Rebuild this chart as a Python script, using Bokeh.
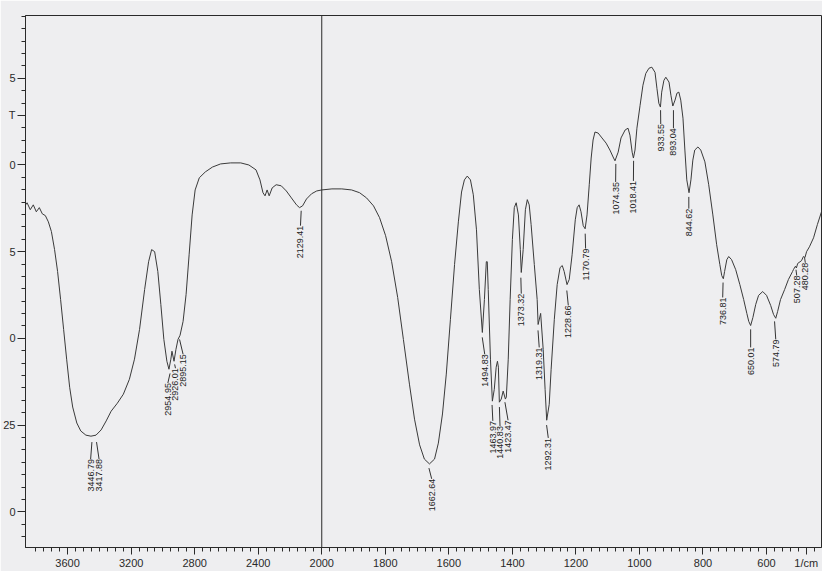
import math
from bokeh.plotting import figure
from bokeh.models import (ColumnDataSource, CustomJSTransform, CustomJSTickFormatter,
                          FixedTicker, Span, Range1d)
from bokeh.transform import transform
from bokeh.core.properties import value
from bokeh.embed import file_html
from bokeh.resources import INLINE

# ---- spectrum (wavenumber 1/cm, transmittance) ----
wavenumber = [3893, 3874, 3855, 3835, 3816, 3797, 3778, 3759, 3740, 3721, 3702, 3682, 3663, 3644,
              3625, 3606, 3587, 3568, 3542, 3517, 3485, 3453, 3421, 3389, 3357, 3326, 3287, 3249,
              3211, 3179, 3147, 3115, 3090, 3071, 3052, 3032, 3013, 2994, 2975, 2962, 2950, 2943,
              2930, 2918, 2905, 2892, 2873, 2854, 2835, 2816, 2797, 2771, 2733, 2688, 2637, 2574,
              2510, 2459, 2414, 2389, 2370, 2357, 2344, 2331, 2312, 2287, 2255, 2223, 2191, 2159,
              2140, 2121, 2096, 2064, 2032, 2000,
              1968, 1937, 1906, 1881, 1859, 1837, 1818, 1799, 1780, 1761, 1743, 1724, 1708, 1692,
              1677, 1661, 1645, 1633, 1620, 1608, 1595, 1582, 1570, 1560, 1551, 1542, 1532, 1523,
              1513, 1504, 1494.5, 1488, 1482, 1479, 1476, 1469, 1463, 1457, 1451, 1447, 1444, 1441,
              1435, 1429, 1422, 1419, 1413, 1407, 1400, 1394, 1388, 1381, 1375, 1372, 1366, 1359,
              1353, 1347, 1341, 1331, 1322, 1319, 1311, 1303, 1297, 1292, 1284, 1278, 1268, 1259,
              1250, 1243, 1237, 1228, 1221, 1212, 1202, 1196, 1190, 1184, 1177, 1171, 1165, 1158,
              1152, 1146, 1140, 1130, 1118, 1105, 1093, 1083, 1077, 1067, 1058, 1045, 1036, 1030,
              1023, 1019, 1014, 1008, 998, 989, 980, 970, 961, 951, 945, 939, 934, 930, 923, 917,
              907, 901, 895, 888, 882, 876, 870, 863, 857, 851, 844, 838, 832, 826, 816, 807, 794,
              782, 769, 757, 747, 741, 736, 732, 725, 719, 710, 697, 684, 672, 662, 656, 650, 643,
              634, 625, 612, 600, 587, 578, 571, 565, 556, 543, 531, 518, 515, 509, 506, 502, 490,
              484, 479, 474, 465, 452, 440, 427, 414, 402]
transmittance = [90.0, 87.9, 89.1, 87.1, 88.5, 86.5, 87.7, 85.9, 85.4, 83.6, 80.8, 75.6, 69.3, 61.2,
                 52.6, 44.0, 35.9, 30.2, 25.6, 23.3, 22.1, 21.8, 22.1, 23.6, 26.2, 29.0, 31.3, 33.9,
                 38.2, 44.0, 52.6, 64.1, 72.1, 75.6, 75.0, 69.3, 59.8, 49.7, 43.4, 41.1, 44.0, 46.3,
                 43.4, 46.8, 49.7, 50.9, 54.9, 62.7, 74.1, 85.6, 92.8, 96.3, 98.0, 99.4, 100.3, 100.6,
                 100.6, 100.0, 98.6, 95.7, 92.0, 91.1, 92.8, 91.1, 93.4, 94.3, 94.0, 92.5, 90.5, 88.5,
                 87.7, 88.2, 90.2, 91.7, 92.5, 92.8,
                 93.1, 93.1, 92.8, 92.0, 90.5, 88.2, 84.8, 79.6, 72.1, 61.8, 49.7, 36.8, 26.7, 19.3,
                 15.2, 13.8, 15.2, 19.8, 28.2, 39.7, 55.5, 71.3, 83.6, 92.2, 95.7, 96.8, 95.7, 91.4,
                 81.3, 64.1, 51.7, 61.2, 72.1, 72.1, 64.1, 44.0, 31.9, 35.3, 41.7, 43.4, 41.7, 31.6,
                 32.5, 34.8, 32.5, 33.1, 44.0, 61.2, 78.5, 87.7, 89.1, 85.6, 75.6, 69.0, 75.6, 87.1,
                 90.0, 88.5, 82.8, 71.3, 61.2, 54.0, 57.2, 46.8, 35.3, 26.4, 31.0, 41.1, 55.5, 65.5,
                 70.4, 71.0, 69.3, 65.5, 67.0, 74.1, 84.2, 87.7, 88.5, 86.5, 82.5, 81.6, 85.6, 94.3,
                 102.0, 107.2, 109.5, 109.2, 107.8, 106.3, 104.3, 102.3, 101.2, 103.7, 107.8, 110.1, 110.6, 108.6,
                 103.7, 102.0, 104.3, 110.6, 117.2, 123.0, 126.4, 127.9, 128.2, 126.7, 122.1, 117.8, 116.7, 121.0, 124.4, 125.3,
                 123.9, 120.1, 117.0, 118.7, 120.7, 121.0, 118.7, 113.5, 104.3, 95.7, 92.0, 95.7, 101.4, 104.3, 105.2, 104.3, 100.9,
                 94.3, 85.6, 77.0, 71.3, 68.1, 67.2, 69.3, 72.7, 73.6, 72.7, 69.8, 65.5, 61.2, 57.2, 54.9, 53.7, 56.0,
                 59.8, 62.4, 63.5, 62.4, 59.5, 56.9, 55.8, 57.8, 61.2, 64.1, 67.0, 69.3, 69.9, 70.8, 70.3, 71.6, 72.4,
                 73.6, 73.3, 75.0, 76.4, 79.0, 82.8, 86.5, 90.0, 92.2]

# ---- peak annotations ----
peak_wn = [3446.79, 3417.88, 2954.95, 2926.01, 2895.15, 2129.41, 1662.64, 1494.83, 1463.97,
           1440.83, 1423.47, 1373.32, 1319.31, 1292.31, 1228.66, 1170.79, 1074.35, 1018.41,
           933.55, 893.04, 844.62, 736.81, 650.01, 574.79, 507.28, 480.28]
peak_text = ["3446.79", "3417.88", "2954.95", "2926.01", "2895.15", "2129.41", "1662.64", "1494.83",
             "1463.97", "1440.83", "1423.47", "1373.32", "1319.31", "1292.31", "1228.66", "1170.79",
             "1074.35", "1018.41", "933.55", "893.04", "844.62", "736.81", "650.01", "574.79",
             "507.28", "480.28"]
label_wn = [3455, 3402, 2969, 2921, 2873, 2134, 1654, 1487, 1461.5, 1438.9, 1413.6, 1372, 1315.5,
            1287, 1224, 1169.5, 1075, 1019, 933, 893, 844.6, 738, 650, 571, 505, 478]
leader_top = [20.1, 20.1, 39.9, 42.5, 49.7, 86.8, 12.6, 50.3, 30.8, 30.2, 31.6, 67.5, 52.3, 25.0,
              63.8, 80.2, 100.3, 101.2, 115.8, 115.8, 90.8, 66.1, 52.6, 54.9, 69.8, 73.3]
text_top = [15.2, 15.2, 37.1, 41.4, 45.4, 82.5, 9.5, 45.4, 26.2, 24.7, 26.4, 62.9, 47.4, 21.3,
            59.5, 75.9, 95.1, 95.4, 111.8, 110.6, 87.4, 61.8, 47.4, 49.7, 68.1, 71.8]

# ---- axis ticks ----
x_tick_labels = [3600, 3200, 2800, 2400, 2000, 1800, 1600, 1400, 1200, 1000, 800, 600]
x_unit_text = "1/cm"
x_unit_at = 475            # wavenumber where the unit text sits
y_ticks = [0, 25, 50, 75, 100, 125]
y_tick_text = ["0", "25", "0", "5", "0", "5"]   # visible (cropped) parts of the labels
y_title_text = "T"
y_title_at = 114.3


def to_axis(w):
    # instrument scale: 4000-2000 compressed by 2 relative to 2000-400
    return w if w <= 2000 else 2000 + (w - 2000) / 2


wn_tr = CustomJSTransform(
    func="return x > 2000 ? 2000 + (x - 2000) / 2 : x",
    v_func="const out = new Array(xs.length);"
           "for (let i = 0; i < xs.length; i++) { const w = xs[i]; out[i] = w > 2000 ? 2000 + (w - 2000) / 2 : w; }"
           "return out;")

BG = "#eeeef0"
INK = "#2a2a2a"
FONT = "Liberation Sans"

p = figure(width=822, height=571, x_range=Range1d(2932.5, 427), y_range=Range1d(-10.3, 143.1),
           output_backend="svg", toolbar_location=None,
           min_border_left=23, min_border_right=1, min_border_top=15, min_border_bottom=22,
           background_fill_color=BG, border_fill_color=BG)
p.xgrid.visible = False
p.ygrid.visible = False
p.outline_line_color = INK
p.outline_line_width = 1

spec = ColumnDataSource(dict(wn=wavenumber, t=transmittance))
p.line(x=transform("wn", wn_tr), y="t", source=spec, line_color="#3a3a3a", line_width=1)

p.add_layout(Span(location=2000, dimension="height", line_color=INK, line_width=1))

lab = ColumnDataSource(dict(wn=peak_wn, lx=label_wn, ly0=leader_top, ty=text_top, txt=peak_text))
p.segment(x0=transform("wn", wn_tr), y0="ly0", x1=transform("lx", wn_tr), y1="ty", source=lab,
          line_color="#333333", line_width=1)
p.text(x=transform("lx", wn_tr), y="ty", text="txt", source=lab, angle=math.pi / 2,
       text_align="right", text_baseline="middle", text_font=value(FONT),
       text_font_size="9px", text_color="#222222")

# x axis
xa = p.xaxis[0]
minor_x = [to_axis(w) for w in range(425, 2000, 25)] + [to_axis(w) for w in range(2050, 3850, 50)]
xa.ticker = FixedTicker(ticks=[to_axis(w) for w in x_tick_labels] + [x_unit_at], minor_ticks=minor_x)
xa.formatter = CustomJSTickFormatter(code="return (tick > 2000 ? 2000 + 2 * (tick - 2000) : tick).toFixed(0);")
xa.major_label_overrides = {x_unit_at: x_unit_text}
xa.major_tick_out = 7
xa.major_tick_in = 0
xa.minor_tick_out = 4
xa.minor_tick_in = 0
xa.major_label_standoff = 2
xa.major_label_text_font = FONT
xa.major_label_text_font_size = "11px"
xa.major_label_text_color = INK
xa.axis_line_color = INK
xa.major_tick_line_color = INK
xa.minor_tick_line_color = INK

# y axis
ya = p.yaxis[0]
minor_y = [round(k * 25 / 7, 3) for k in range(-2, 41) if k % 7 != 0]
ya.ticker = FixedTicker(ticks=y_ticks + [y_title_at], minor_ticks=minor_y)
overrides = {v: s for v, s in zip(y_ticks, y_tick_text)}
overrides[y_title_at] = y_title_text
ya.major_label_overrides = overrides
ya.major_tick_out = 8
ya.major_tick_in = 0
ya.minor_tick_out = 4
ya.minor_tick_in = 0
ya.major_label_standoff = 2
ya.major_label_text_font = FONT
ya.major_label_text_font_size = "11px"
ya.major_label_text_color = INK
ya.axis_line_color = INK
ya.major_tick_line_color = INK
ya.minor_tick_line_color = INK

open("out.html", "w").write(file_html(p, INLINE))
